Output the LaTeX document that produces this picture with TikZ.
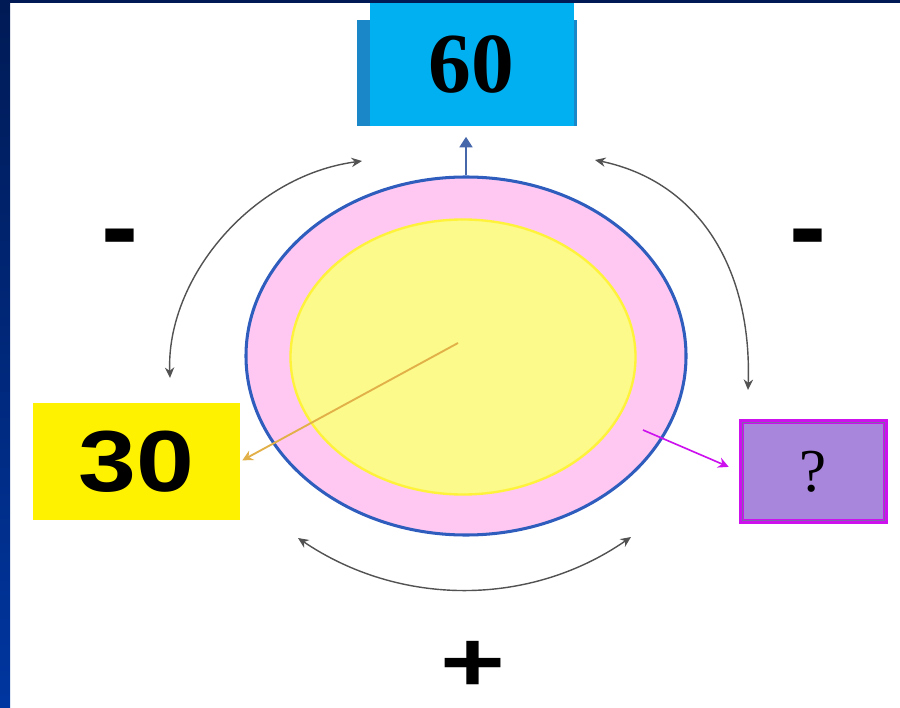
\documentclass[tikz,border=0pt]{standalone}
\usepackage{fontspec}
\setmainfont{Liberation Serif}
\setsansfont{Liberation Sans}
\usepackage{xcolor}
\usetikzlibrary{arrows.meta,positioning,calc,shapes.geometric}

\definecolor{navy}{HTML}{001A55}
\definecolor{royal}{HTML}{0036A0}
\definecolor{sky}{HTML}{00B0F0}
\definecolor{skyshade}{HTML}{1A88C8}
\definecolor{ringblue}{HTML}{2F5DBE}
\definecolor{ringpink}{HTML}{FFC8F2}
\definecolor{coreyellow}{HTML}{FCFA8A}
\definecolor{coreedge}{HTML}{FFF23A}
\definecolor{lilac}{HTML}{A886DC}
\definecolor{lilacedge}{HTML}{8062A8}
\definecolor{hotpink}{HTML}{CC10EE}
\definecolor{ochre}{HTML}{E2B048}

\begin{document}
\begin{tikzpicture}[
  x=0.03cm,
  y=-0.03cm,
  >=Stealth,
  cycle/.style={{Stealth[length=9pt,width=8pt]}-{Stealth[length=9pt,width=8pt]},
    line width=1.2pt, draw=black!68},
  rise/.style={-{Triangle[length=9pt,width=11pt]}, line width=1.8pt, draw=ringblue!70!gray},
  toyellow/.style={-{Stealth[length=9pt,width=9pt]}, line width=1.6pt, draw=ochre},
  topurple/.style={-{Stealth[length=9pt,width=9pt]}, line width=1.4pt, draw=hotpink},
  valbox/.style={rectangle, inner sep=0pt, text=black},
  sign/.style={font=\sffamily\bfseries\fontsize{95}{100}\selectfont, inner sep=0pt,
    anchor=base}
]
\useasboundingbox (0,0) rectangle (900,708);

% Frame of the slide: dark strip on the left and at the top.
\shade[top color=navy, bottom color=royal] (0,0) rectangle (10,708);
\fill[navy] (0,0) rectangle (900,3);

% The cell: pink ring round a yellow core.
\node[ellipse, draw=ringblue, line width=2.6pt, fill=ringpink,
  minimum width=13.2cm, minimum height=10.74cm] (ring) at (466,356) {};
\node[ellipse, draw=coreedge, line width=2pt, fill=coreyellow,
  minimum width=10.35cm, minimum height=8.25cm] (core) at (463,357) {};
\coordinate (mid) at (458,343);
\coordinate (rim) at (643,430);

% Value boxes.
\node[valbox, fill=skyshade, minimum width=6.6cm, minimum height=3.18cm]
  (topshade) at (467,73) {};
\node[valbox, fill=sky, minimum width=6.12cm, minimum height=3.69cm,
  font=\bfseries\fontsize{73}{80}\selectfont] (top) at (471.5,64.5) {60};
\node[valbox, fill=yellow, minimum width=6.21cm, minimum height=3.51cm]
  (thirty) at (136.5,461.5) {};
\node[font=\sffamily\bfseries\fontsize{74}{80}\selectfont, xscale=1.2,
  transform shape, inner sep=0pt] (thirtytext) at (thirty.center) {30};
\node[valbox, fill=lilac, draw=hotpink, line width=4pt, minimum width=4.3cm,
  minimum height=2.98cm, font=\fontsize{52}{56}\selectfont] (quest) at (813.5,471.5) {?};
\draw[lilacedge, line width=1.3pt] ($(quest.south west)+(2.6pt,2.6pt)$)
  rectangle ($(quest.north east)-(2.6pt,2.6pt)$);

% Outputs of the cell.
\draw[rise] (ring.north) -- (ring.north |- topshade.south) [shorten >=9pt];
\draw[toyellow, shorten >=2pt] (mid) -- (thirty.east);
\draw[topurple, shorten >=10pt] (rim) -- (quest.west);

% Exchange arcs between the boxes.
\coordinate (lt) at (362,161);
\coordinate (lb) at (170,378);
\coordinate (rt) at (595,160);
\coordinate (rb) at (748,390);
\coordinate (bl) at (298,538);
\coordinate (br) at (631,537);
\draw[cycle] (lb) .. controls (166,280) and (250,176) .. (lt);
\draw[cycle] (rt) .. controls (700,182) and (752,270) .. (rb);
\draw[cycle] (bl) .. controls (400,607) and (530,607) .. (br);

% Signs of the arcs.
\node[sign] (mleft) at (120,264) {-};
\node[sign] (mright) at (808,264) {-};
\node[sign, font=\sffamily\bfseries\fontsize{73}{78}\selectfont, xscale=1.3,
  transform shape] (plus) at (473,691) {+};

\end{tikzpicture}
\end{document}
